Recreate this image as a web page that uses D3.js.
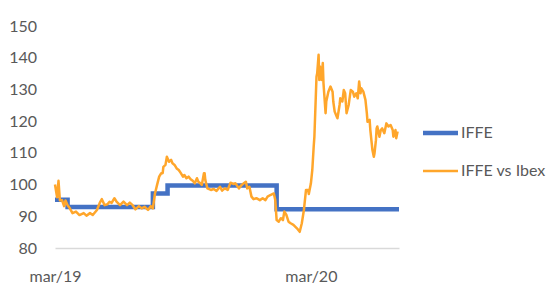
<!DOCTYPE html>
<html>
<head>
<meta charset="utf-8">
<script src="https://cdn.jsdelivr.net/npm/d3@7"></script>
<style>
    body { margin: 0; background: #fff; }
    text { font-family: Lato, "Open Sans", sans-serif; fill: #595959; }
</style>
</head>
<body>
<div id="graph"></div>
<script>
// datos
const yTicks = [80, 90, 100, 110, 120, 130, 140, 150];
const xTickDates = ["2019-03-01", "2020-03-01"];
const xTickLabels = ["mar/19", "mar/20"];
const seriesNames = ["IFFE", "IFFE vs Ibex"];

// IFFE (escalones)
const iffeDates = ["2019-03-01", "2019-03-19", "2019-07-19", "2019-08-09", "2020-01-12", "2020-07-05"];
const iffeValues = [95.2, 92.9, 97.2, 99.7, 92.2, 92.2];

// IFFE vs Ibex
const relDates = [
    "2019-03-01", "2019-03-04", "2019-03-06", "2019-03-08", "2019-03-11", "2019-03-14", "2019-03-16", "2019-03-19",
    "2019-03-22", "2019-03-26", "2019-03-31", "2019-04-05", "2019-04-11", "2019-04-15", "2019-04-20", "2019-04-24",
    "2019-04-30", "2019-05-04", "2019-05-07", "2019-05-11", "2019-05-15", "2019-05-18", "2019-05-21", "2019-05-25",
    "2019-05-28", "2019-06-02", "2019-06-07", "2019-06-12", "2019-06-16", "2019-06-20", "2019-06-24", "2019-06-29",
    "2019-07-03", "2019-07-07", "2019-07-12", "2019-07-16", "2019-07-19", "2019-07-22", "2019-07-25", "2019-07-28",
    "2019-07-31", "2019-08-02", "2019-08-03", "2019-08-06", "2019-08-08", "2019-08-11", "2019-08-14", "2019-08-16",
    "2019-08-19", "2019-08-22", "2019-08-25", "2019-08-28", "2019-08-31", "2019-09-02", "2019-09-05", "2019-09-08",
    "2019-09-11", "2019-09-14", "2019-09-17", "2019-09-20", "2019-09-22", "2019-09-25", "2019-09-27", "2019-09-30",
    "2019-10-01", "2019-10-02", "2019-10-05", "2019-10-10", "2019-10-14", "2019-10-18", "2019-10-23", "2019-10-26",
    "2019-10-30", "2019-11-03", "2019-11-07", "2019-11-11", "2019-11-14", "2019-11-19", "2019-11-23", "2019-11-26",
    "2019-11-29", "2019-12-01", "2019-12-04", "2019-12-07", "2019-12-10", "2019-12-14", "2019-12-19", "2019-12-23",
    "2019-12-27", "2019-12-30", "2020-01-03", "2020-01-08", "2020-01-09", "2020-01-10", "2020-01-12", "2020-01-15",
    "2020-01-18", "2020-01-21", "2020-01-23", "2020-01-26", "2020-01-29", "2020-02-01", "2020-02-05", "2020-02-10",
    "2020-02-14", "2020-02-17", "2020-02-20", "2020-02-23", "2020-02-26", "2020-02-27", "2020-03-01", "2020-03-03",
    "2020-03-05", "2020-03-06", "2020-03-09", "2020-03-10", "2020-03-12", "2020-03-13", "2020-03-14", "2020-03-16",
    "2020-03-18", "2020-03-19", "2020-03-20", "2020-03-22", "2020-03-23", "2020-03-26", "2020-03-29", "2020-04-01",
    "2020-04-02", "2020-04-04", "2020-04-07", "2020-04-08", "2020-04-11", "2020-04-12", "2020-04-15", "2020-04-17",
    "2020-04-19", "2020-04-21", "2020-04-24", "2020-04-25", "2020-04-27", "2020-04-30", "2020-05-02", "2020-05-05",
    "2020-05-07", "2020-05-09", "2020-05-11", "2020-05-12", "2020-05-15", "2020-05-18", "2020-05-20", "2020-05-21",
    "2020-05-24", "2020-05-25", "2020-05-27", "2020-05-28", "2020-05-30", "2020-05-31", "2020-06-02", "2020-06-03",
    "2020-06-04", "2020-06-07", "2020-06-09", "2020-06-11", "2020-06-14", "2020-06-17", "2020-06-20", "2020-06-23",
    "2020-06-26", "2020-06-27", "2020-06-30", "2020-07-01", "2020-07-03"
];
const relValues = [
    100, 96, 101.2, 95, 95.1, 93.2, 95, 93.5,
    92.6, 91, 91.5, 90.4, 91, 90.2, 91, 90.4,
    92, 94.2, 95.4, 93.5, 93.8, 94.6, 94.2, 95.7,
    94.6, 93.5, 94.6, 93.5, 94.3, 93.5, 92.2, 93.2,
    92.5, 93, 92, 93.2, 92.5, 97.2, 99.9, 102.5,
    103.6, 103.6, 105.6, 106.2, 108.8, 107.2, 107.8, 106.7,
    106.2, 105.1, 104.6, 103.6, 102.5, 103, 102, 102.5,
    101.7, 101.2, 100.4, 102, 100.9, 100.4, 99.9, 103.6,
    103.6, 101.4, 98.8, 98.3, 98.6, 98, 99.3, 98.1,
    98.8, 98.3, 100.6, 100.2, 100.4, 98.8, 99.9, 100.4,
    100.9, 98.8, 99.3, 96.2, 95.4, 95.7, 95.1, 95.7,
    95.1, 96.2, 96.7, 97.2, 96.2, 95.1, 88.8, 88.3,
    89.4, 88.8, 91.5, 90.4, 88.3, 87.8, 87.3, 86.2,
    85.1, 87.8, 92, 98.3, 98.3, 97, 100.4, 104.6,
    112, 115.1, 134, 135.1, 140.9, 133, 137.2, 133,
    138.3, 132, 128.8, 122.5, 126.2, 129.3, 130.9, 129.3,
    126.2, 123, 121.4, 120.9, 125.1, 127.2, 126.2, 129.8,
    128.8, 122.5, 125.1, 126.7, 129.8, 129.3, 127.7, 128.8,
    127.2, 132.5, 128.8, 130.4, 129.3, 126.7, 122.5, 119.8,
    120.4, 117.2, 113, 110.9, 108.8, 109.9, 114, 117.7,
    118.3, 115.1, 117.2, 117.7, 116.2, 119.3, 118.3, 118.8,
    117.2, 115.1, 117.2, 114.6, 116.7
];

const parse = d3.timeParse("%Y-%m-%d");
const iffe = iffeDates.map((d, i) => ({ date: parse(d), value: iffeValues[i] }));
const rel = relDates.map((d, i) => ({ date: parse(d), value: relValues[i] }));

const margin = { top: 26, right: 150, bottom: 37, left: 55 },
    width = 549 - margin.left - margin.right,
    height = 285 - margin.top - margin.bottom;

const svg = d3
    .select("#graph")
    .append("svg")
    .attr("width", width + margin.left + margin.right)
    .attr("height", height + margin.top + margin.bottom)
    .append("g")
    .attr("transform", `translate(${margin.left},${margin.top})`);

const x = d3
    .scaleTime()
    .domain([parse("2019-03-01"), parse("2020-07-05")])
    .range([0, width]);
const y = d3.scaleLinear().domain([80, 150]).range([height, 0]);
const color = d3.scaleOrdinal().domain(seriesNames).range(["#4472C4", "#FFA62B"]);
const strokeW = { "IFFE": 4.5, "IFFE vs Ibex": 2.5 };

// ejes
const yAxis = svg.append("g")
    .attr("class", "axis y-axis")
    .call(d3.axisLeft(y).tickValues(yTicks).tickSize(0).tickPadding(18));
yAxis.select(".domain").remove();
yAxis.selectAll("text").style("font-size", "16px");

const xAxis = svg.append("g")
    .attr("class", "axis x-axis")
    .attr("transform", `translate(0,${height})`)
    .call(d3.axisBottom(x)
        .tickValues(xTickDates.map(parse))
        .tickFormat((d, i) => xTickLabels[i])
        .tickSize(0)
        .tickPadding(23));
xAxis.select(".domain").attr("stroke", "#D9D9D9").attr("stroke-width", 1.3);
xAxis.selectAll("text").style("font-size", "16px");

// lineas
const stepLine = d3.line()
    .x((d) => x(d.date))
    .y((d) => y(d.value))
    .curve(d3.curveStepAfter);
const line = d3.line()
    .x((d) => x(d.date))
    .y((d) => y(d.value));

svg.append("path")
    .datum(iffe)
    .attr("fill", "none")
    .attr("stroke", color("IFFE"))
    .attr("stroke-width", strokeW["IFFE"])
    .attr("d", stepLine);

svg.append("path")
    .datum(rel)
    .attr("fill", "none")
    .attr("stroke", color("IFFE vs Ibex"))
    .attr("stroke-width", strokeW["IFFE vs Ibex"])
    .attr("stroke-linejoin", "round")
    .attr("d", line);

// leyenda
const legend = svg.append("g")
    .attr("transform", `translate(${width + 24},${y(116.3)})`);
const items = legend.selectAll("g")
    .data(seriesNames)
    .enter()
    .append("g")
    .attr("transform", (d, i) => `translate(0,${i * 38})`);
items.append("line")
    .attr("x1", 0)
    .attr("x2", 35)
    .attr("stroke", (d) => color(d))
    .attr("stroke-width", (d) => strokeW[d]);
items.append("text")
    .attr("x", 38)
    .attr("dy", "0.35em")
    .style("font-size", "16px")
    .text((d) => d);
</script>
</body>
</html>
